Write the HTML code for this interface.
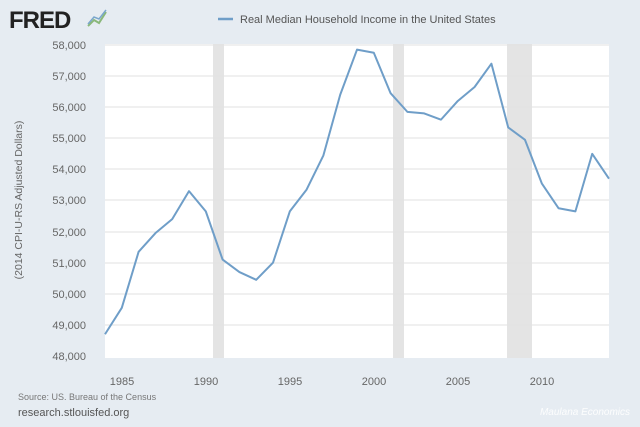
<!DOCTYPE html>
<html><head><meta charset="utf-8"><style>
body{margin:0;width:640px;height:422px;background:#e6ecf2;overflow:hidden;font-family:"Liberation Sans",sans-serif}
</style></head><body>
<svg width="640" height="422" xmlns="http://www.w3.org/2000/svg" font-family="Liberation Sans, sans-serif">
<rect width="640" height="422" fill="#e6ecf2"/>
<text x="9" y="28" font-size="24" font-weight="bold" fill="#222" letter-spacing="-1">FRED</text>
<polyline points="88,26 94,20 99,23 106,12" fill="none" stroke="#8ab87a" stroke-width="2"/>
<polyline points="88,24 94,17 99,19 106,10" fill="none" stroke="#7aa7cc" stroke-width="1.5"/>
<line x1="218" y1="19" x2="233" y2="19" stroke="#6f9ec8" stroke-width="2.5"/>
<text x="240" y="23" font-size="11" fill="#555">Real Median Household Income in the United States</text>
<rect x="105" y="44" width="504" height="314" fill="#fff"/>
<rect x="213" y="44" width="11" height="314" fill="#e4e4e4"/>
<rect x="393" y="44" width="11" height="314" fill="#e4e4e4"/>
<rect x="507" y="44" width="25" height="314" fill="#e4e4e4"/>
<g stroke="#e2e2e2" stroke-width="1">
<line x1="105" x2="609" y1="45" y2="45"/><line x1="105" x2="609" y1="76" y2="76"/>
<line x1="105" x2="609" y1="107" y2="107"/><line x1="105" x2="609" y1="138" y2="138"/>
<line x1="105" x2="609" y1="169" y2="169"/><line x1="105" x2="609" y1="200" y2="200"/>
<line x1="105" x2="609" y1="232" y2="232"/><line x1="105" x2="609" y1="263" y2="263"/>
<line x1="105" x2="609" y1="294" y2="294"/><line x1="105" x2="609" y1="325" y2="325"/>
</g>
<g font-size="11" fill="#666" text-anchor="end">
<text x="86" y="49">58,000</text><text x="86" y="80">57,000</text><text x="86" y="111">56,000</text>
<text x="86" y="142">55,000</text><text x="86" y="173">54,000</text><text x="86" y="204">53,000</text>
<text x="86" y="236">52,000</text><text x="86" y="267">51,000</text><text x="86" y="298">50,000</text>
<text x="86" y="329">49,000</text><text x="86" y="360">48,000</text>
</g>
<g font-size="11" fill="#666" text-anchor="middle">
<text x="122" y="385">1985</text><text x="206" y="385">1990</text><text x="290" y="385">1995</text>
<text x="374" y="385">2000</text><text x="458" y="385">2005</text><text x="542" y="385">2010</text>
</g>
<text transform="translate(22,200) rotate(-90)" font-size="10.5" fill="#666" text-anchor="middle">(2014 CPI-U-RS Adjusted Dollars)</text>
<g transform="translate(105,356) scale(16.8,-0.0311)">
<polyline vector-effect="non-scaling-stroke" fill="none" stroke="#6f9ec8" stroke-width="2" stroke-linejoin="round"
points="0,700 1,1550 2,3350 3,3950 4,4400 5,5300 6,4650 7,3100 8,2700 9,2450 10,3000 11,4650 12,5350 13,6450 14,8400 15,9850 16,9750 17,8450 18,7850 19,7800 20,7600 21,8200 22,8650 23,9400 24,7350 25,6950 26,5550 27,4750 28,4650 29,6500 30,5700"/>
</g>
<text x="18" y="400" font-size="9" fill="#777">Source: US. Bureau of the Census</text>
<text x="18" y="416" font-size="11" fill="#555">research.stlouisfed.org</text>
<text x="630" y="415" font-size="10" fill="#fff" text-anchor="end" font-style="italic" opacity="0.9">Maulana Economics</text>
</svg>
</body></html>
